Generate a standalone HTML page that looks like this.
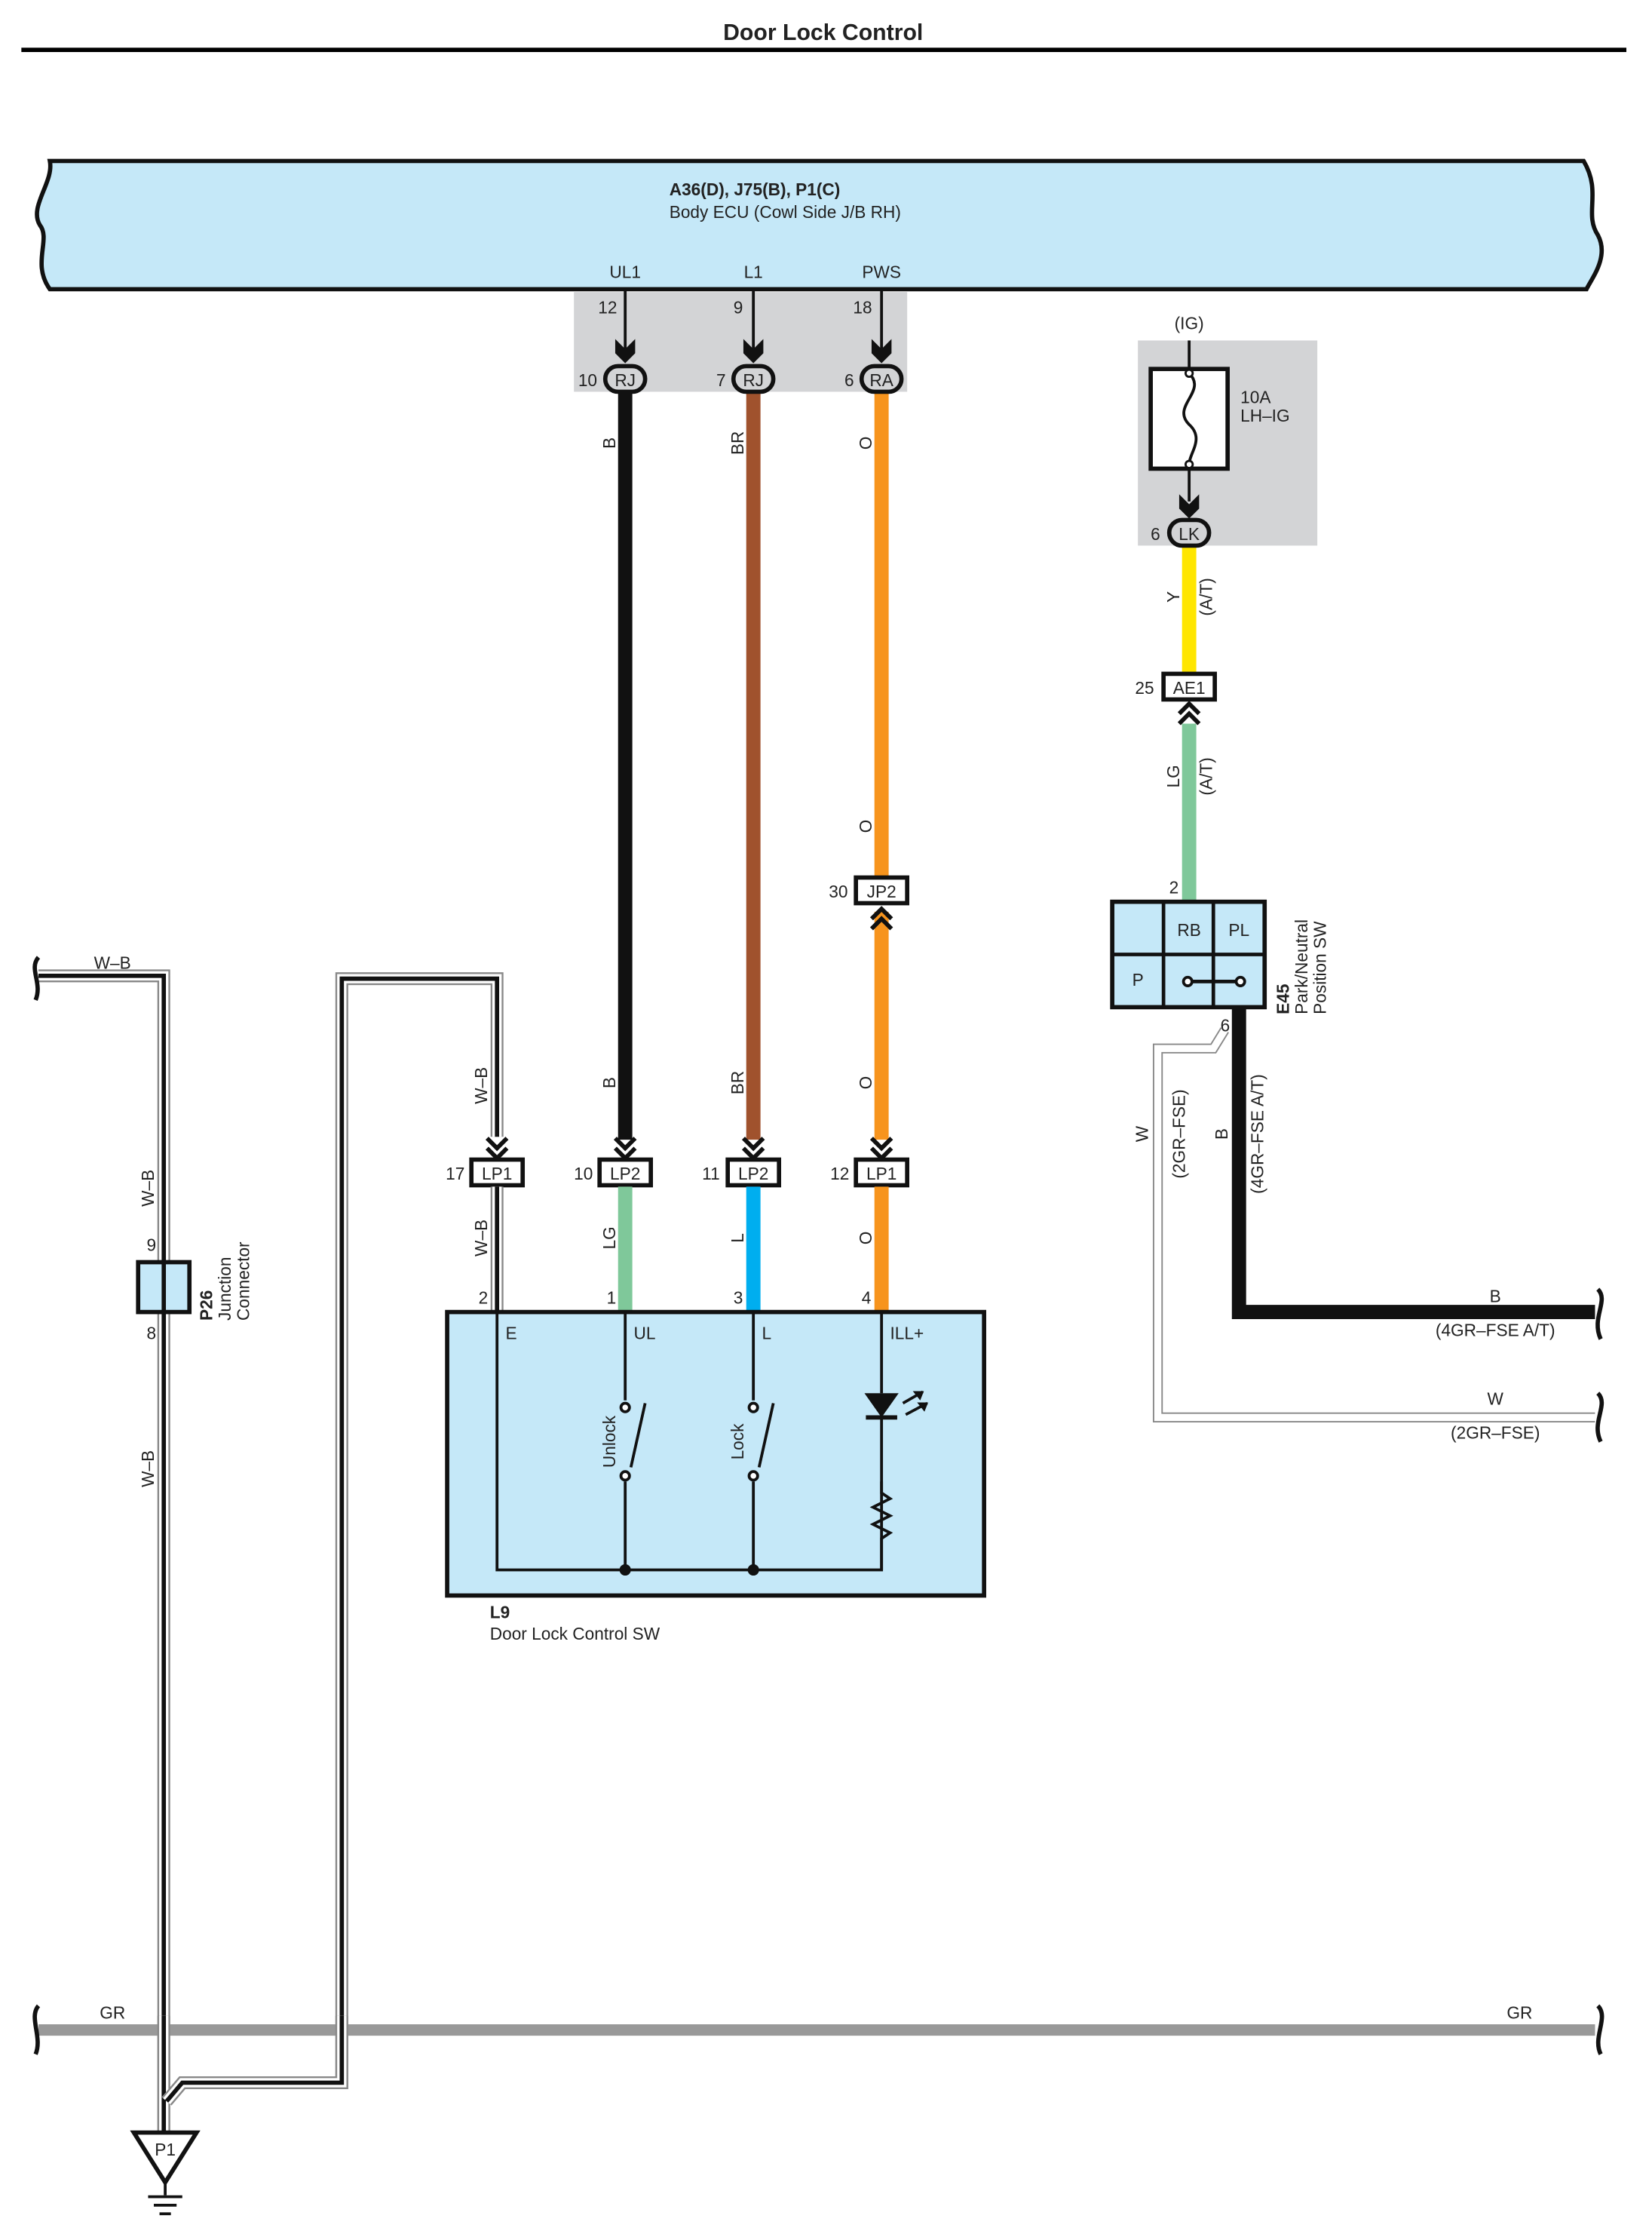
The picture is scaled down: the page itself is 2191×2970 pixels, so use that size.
<!DOCTYPE html>
<html><head><meta charset="utf-8"><style>
html,body{margin:0;padding:0;background:#fff}
svg{display:block}
text{font-family:"Liberation Sans",sans-serif;fill:#222}
</style></head><body>
<svg width="2191" height="2970" viewBox="0 0 1160 1572.4" preserveAspectRatio="none" xmlns="http://www.w3.org/2000/svg">
<defs>
<g id="chev"><path d="M-7,-15 L0,-8 L7,-15 M-7,-8 L0,-1 L7,-8" fill="none" stroke="#111" stroke-width="3"/></g>
<g id="chevu"><path d="M-7,15 L0,8 L7,15 M-7,8 L0,1 L7,8" fill="none" stroke="#111" stroke-width="3"/></g>
<g id="farrow"><path d="M-7,-14 L0,-7 L7,-14 L7,-4 L0,3 L-7,-4 Z" fill="#111"/></g>
</defs>
<!-- title -->
<text x="578" y="28" font-size="16" font-weight="bold" text-anchor="middle" fill="#000">Door Lock Control</text>
<line x1="15" y1="35" x2="1142" y2="35" stroke="#000" stroke-width="3"/>

<!-- ECU band -->
<path d="M35,113 L1112,113 C1125,135 1112,150 1122,165 C1130,180 1118,195 1114,203 L35,203 C22,185 36,168 28,158 C20,145 38,128 35,113 Z" fill="#c5e8f8" stroke="#111" stroke-width="3"/>
<text x="470" y="137" font-size="12" font-weight="bold">A36(D), J75(B), P1(C)</text>
<text x="470" y="153" font-size="12">Body ECU (Cowl Side J/B RH)</text>
<text x="439" y="195" font-size="12" text-anchor="middle">UL1</text>
<text x="529" y="195" font-size="12" text-anchor="middle">L1</text>
<text x="619" y="195" font-size="12" text-anchor="middle">PWS</text>
<rect x="403" y="205" width="234" height="70" fill="#d3d4d6"/>

<!-- wires top -->
<line x1="439" y1="275" x2="439" y2="800" stroke="#111" stroke-width="10"/>
<line x1="529" y1="275" x2="529" y2="800" stroke="#a0522d" stroke-width="10"/>
<line x1="619" y1="275" x2="619" y2="616" stroke="#f7941d" stroke-width="10"/>
<line x1="619" y1="640" x2="619" y2="800" stroke="#f7941d" stroke-width="10"/>
<g stroke="#111" stroke-width="2">
<line x1="439" y1="204" x2="439" y2="245"/><line x1="529" y1="204" x2="529" y2="245"/><line x1="619" y1="204" x2="619" y2="245"/>
</g>
<use href="#farrow" x="439" y="252"/><use href="#farrow" x="529" y="252"/><use href="#farrow" x="619" y="252"/>
<text x="420" y="220" font-size="12">12</text>
<text x="515" y="220" font-size="12">9</text>
<text x="599" y="220" font-size="12">18</text>
<g font-size="12">
<rect x="425" y="257" width="28" height="18" rx="9" fill="#d3d4d6" stroke="#111" stroke-width="3"/><text x="439" y="271" text-anchor="middle">RJ</text>
<rect x="515" y="257" width="28" height="18" rx="9" fill="#d3d4d6" stroke="#111" stroke-width="3"/><text x="529" y="271" text-anchor="middle">RJ</text>
<rect x="605" y="257" width="28" height="18" rx="9" fill="#d3d4d6" stroke="#111" stroke-width="3"/><text x="619" y="271" text-anchor="middle">RA</text>
<text x="406" y="271">10</text><text x="503" y="271">7</text><text x="593" y="271">6</text>
</g>
<g font-size="12" text-anchor="middle">
<text transform="translate(432,311) rotate(-90)">B</text>
<text transform="translate(522,311) rotate(-90)">BR</text>
<text transform="translate(612,311) rotate(-90)">O</text>
<text transform="translate(612,580) rotate(-90)">O</text>
<text transform="translate(432,760) rotate(-90)">B</text>
<text transform="translate(522,760) rotate(-90)">BR</text>
<text transform="translate(612,760) rotate(-90)">O</text>
</g>
<!-- JP2 -->
<rect x="601" y="616" width="36" height="18" fill="#fff" stroke="#111" stroke-width="3"/>
<text x="619" y="630" font-size="12" text-anchor="middle">JP2</text>
<text x="582" y="630" font-size="12">30</text>
<use href="#chevu" x="619" y="637"/>

<!-- LP connectors -->
<use href="#chev" x="349" y="814"/><use href="#chev" x="439" y="814"/><use href="#chev" x="529" y="814"/><use href="#chev" x="619" y="814"/>
<g font-size="12">
<rect x="331" y="814" width="36" height="18" fill="#fff" stroke="#111" stroke-width="3"/><text x="349" y="828" text-anchor="middle">LP1</text>
<rect x="421" y="814" width="36" height="18" fill="#fff" stroke="#111" stroke-width="3"/><text x="439" y="828" text-anchor="middle">LP2</text>
<rect x="511" y="814" width="36" height="18" fill="#fff" stroke="#111" stroke-width="3"/><text x="529" y="828" text-anchor="middle">LP2</text>
<rect x="601" y="814" width="36" height="18" fill="#fff" stroke="#111" stroke-width="3"/><text x="619" y="828" text-anchor="middle">LP1</text>
<text x="313" y="828">17</text><text x="403" y="828">10</text><text x="493" y="828">11</text><text x="583" y="828">12</text>
</g>
<line x1="439" y1="833" x2="439" y2="921" stroke="#7fc89a" stroke-width="10"/>
<line x1="529" y1="833" x2="529" y2="921" stroke="#00aeef" stroke-width="10"/>
<line x1="619" y1="833" x2="619" y2="921" stroke="#f7941d" stroke-width="10"/>
<g font-size="12" text-anchor="middle">
<text transform="translate(432,869) rotate(-90)">LG</text>
<text transform="translate(522,869) rotate(-90)">L</text>
<text transform="translate(612,869) rotate(-90)">O</text>
<text transform="translate(342,869) rotate(-90)">W–B</text>
<text transform="translate(342,762) rotate(-90)">W–B</text>
</g>
<g font-size="12"><text x="336" y="915">2</text><text x="426" y="915">1</text><text x="515" y="915">3</text><text x="605" y="915">4</text></g>

<!-- W-B wires (double) -->
<g fill="none" stroke-linejoin="miter">
<path d="M349,798 L349,687 L240,687 L240,1462 L128,1462 L117,1475" stroke="#888" stroke-width="9"/>
<path d="M349,798 L349,687 L240,687 L240,1462 L128,1462 L117,1475" stroke="#fff" stroke-width="6.5"/>
<path d="M349,798 L349,687 L240,687 L240,1462 L128,1462 L117,1475" stroke="#111" stroke-width="3"/>
<path d="M349,833 L349,921" stroke="#888" stroke-width="9"/>
<path d="M349,833 L349,921" stroke="#fff" stroke-width="6.5"/>
<path d="M349,833 L349,921" stroke="#111" stroke-width="3"/>
<path d="M27,685 L115,685 L115,1497" stroke="#888" stroke-width="9"/>
<path d="M27,685 L115,685 L115,1497" stroke="#fff" stroke-width="6.5"/>
<path d="M27,685 L115,685 L115,1497" stroke="#111" stroke-width="3"/>
</g>
<path d="M27,672 C20,680 30,690 25,702" fill="none" stroke="#111" stroke-width="3"/>
<text x="66" y="680" font-size="12">W–B</text>
<g font-size="12" text-anchor="middle">
<text transform="translate(108,834) rotate(-90)">W–B</text>
<text transform="translate(108,1031) rotate(-90)">W–B</text>
</g>
<!-- P26 -->
<rect x="97" y="886" width="36" height="35" fill="#c5e8f8" stroke="#111" stroke-width="3"/>
<line x1="115" y1="886" x2="115" y2="921" stroke="#111" stroke-width="3"/>
<text x="103" y="878" font-size="12">9</text>
<text x="103" y="940" font-size="12">8</text>
<text transform="translate(149,927) rotate(-90)" font-size="12" font-weight="bold">P26</text>
<text transform="translate(162,927) rotate(-90)" font-size="12">Junction</text>
<text transform="translate(175,927) rotate(-90)" font-size="12">Connector</text>

<!-- GR line -->
<line x1="27" y1="1425" x2="1120" y2="1425" stroke="#999" stroke-width="8"/>
<line x1="115" y1="1421" x2="115" y2="1429" stroke="#111" stroke-width="3"/>
<path d="M27,1408 C20,1416 30,1430 25,1442" fill="none" stroke="#111" stroke-width="3"/>
<path d="M1122,1408 C1130,1416 1118,1430 1124,1442" fill="none" stroke="#111" stroke-width="3"/>
<text x="70" y="1417" font-size="12">GR</text>
<text x="1058" y="1417" font-size="12">GR</text>
<!-- redraw W-B crossings over GR -->
<g fill="none">
<path d="M115,1415 L115,1497" stroke="#888" stroke-width="9"/><path d="M115,1415 L115,1497" stroke="#fff" stroke-width="6.5"/><path d="M115,1415 L115,1497" stroke="#111" stroke-width="3"/>
<path d="M240,1415 L240,1462 L128,1462 L117,1475" stroke="#888" stroke-width="9"/><path d="M240,1415 L240,1462 L128,1462 L117,1475" stroke="#fff" stroke-width="6.5"/><path d="M240,1415 L240,1462 L128,1462 L117,1475" stroke="#111" stroke-width="3"/>
</g>
<!-- P1 ground -->
<path d="M94,1497 L138,1497 L116,1532 Z" fill="#fff" stroke="#111" stroke-width="3"/>
<text x="116" y="1513" font-size="12" text-anchor="middle">P1</text>
<g stroke="#111" stroke-width="2"><line x1="116" y1="1532" x2="116" y2="1541"/><line x1="104" y1="1542" x2="128" y2="1542"/><line x1="108" y1="1548" x2="124" y2="1548"/><line x1="112" y1="1554" x2="120" y2="1554"/></g>

<!-- L9 box -->
<rect x="314" y="921" width="377" height="199" fill="#c5e8f8" stroke="#111" stroke-width="3"/>
<g stroke="#111" stroke-width="2" fill="none">
<path d="M349,921 L349,1102 L619,1102 L619,995"/>
<line x1="439" y1="921" x2="439" y2="983"/><line x1="439" y1="1040" x2="439" y2="1102"/>
<line x1="529" y1="921" x2="529" y2="983"/><line x1="529" y1="1040" x2="529" y2="1102"/>
<line x1="443" y1="1030" x2="453" y2="985"/><line x1="533" y1="1030" x2="543" y2="985"/>
<circle cx="439" cy="988" r="3" fill="#fff"/><circle cx="439" cy="1036" r="3" fill="#fff"/>
<circle cx="529" cy="988" r="3" fill="#fff"/><circle cx="529" cy="1036" r="3" fill="#fff"/>
<line x1="619" y1="921" x2="619" y2="978"/>
<line x1="608" y1="995" x2="630" y2="995" stroke-width="3"/>
<path d="M619,1040 L619,1048 L625,1052 L613,1058 L625,1064 L613,1070 L625,1076 L619,1080 L619,1102"/>
<path d="M634,985 L648,977 M636,993 L651,985"/>
</g>
<path d="M607,978 L631,978 L619,995 Z" fill="#111"/>
<path d="M648,977 L642,977 L646,982 Z M651,985 L645,985 L649,990 Z" fill="#111" stroke="#111"/>
<circle cx="439" cy="1102" r="4" fill="#111"/><circle cx="529" cy="1102" r="4" fill="#111"/>
<g font-size="12">
<text x="355" y="940">E</text><text x="445" y="940">UL</text><text x="535" y="940">L</text><text x="625" y="940">ILL+</text>
<text transform="translate(432,1012) rotate(-90)" text-anchor="middle">Unlock</text>
<text transform="translate(522,1012) rotate(-90)" text-anchor="middle">Lock</text>
<text x="344" y="1136" font-weight="bold">L9</text>
<text x="344" y="1151">Door Lock Control SW</text>
</g>

<!-- fuse -->
<text x="835" y="231" font-size="12" text-anchor="middle">(IG)</text>
<rect x="799" y="239" width="126" height="144" fill="#d3d4d6"/>
<rect x="808" y="259" width="54" height="70" fill="#fff" stroke="#111" stroke-width="3"/>
<g stroke="#111" stroke-width="2" fill="none">
<line x1="835" y1="239" x2="835" y2="259"/>
<path d="M835,262 C848,275 822,285 835,298 C846,308 835,318 835,326"/>
<line x1="835" y1="329" x2="835" y2="352"/>
</g>
<circle cx="835" cy="262" r="2.5" fill="#fff" stroke="#111" stroke-width="1.5"/>
<circle cx="835" cy="326" r="2.5" fill="#fff" stroke="#111" stroke-width="1.5"/>
<text x="871" y="283" font-size="12">10A</text>
<text x="871" y="296" font-size="12">LH–IG</text>
<line x1="835" y1="383" x2="835" y2="472" stroke="#ffe600" stroke-width="10"/>
<use href="#farrow" x="835" y="361"/>
<rect x="821" y="365" width="28" height="18" rx="9" fill="#d3d4d6" stroke="#111" stroke-width="3"/>
<text x="835" y="379" font-size="12" text-anchor="middle">LK</text>
<text x="808" y="379" font-size="12">6</text>
<text transform="translate(828,419) rotate(-90)" font-size="12" text-anchor="middle">Y</text>
<text transform="translate(851,419) rotate(-90)" font-size="12" text-anchor="middle">(A/T)</text>
<rect x="817" y="473" width="36" height="18" fill="#fff" stroke="#111" stroke-width="3"/>
<text x="835" y="487" font-size="12" text-anchor="middle">AE1</text>
<text x="797" y="487" font-size="12">25</text>
<use href="#chevu" x="835" y="493"/>
<line x1="835" y1="508" x2="835" y2="633" stroke="#7fc89a" stroke-width="10"/>
<text transform="translate(828,545) rotate(-90)" font-size="12" text-anchor="middle">LG</text>
<text transform="translate(851,545) rotate(-90)" font-size="12" text-anchor="middle">(A/T)</text>
<text x="821" y="627" font-size="12">2</text>

<!-- W wire -->
<g fill="none">
<path d="M860,723 L852,736 L813,736 L813,995 L1120,995" stroke="#888" stroke-width="7"/>
<path d="M860,723 L852,736 L813,736 L813,995 L1120,995" stroke="#fff" stroke-width="5"/>
</g>
<!-- B wire -->
<path d="M870,707 L870,921 L1120,921" fill="none" stroke="#111" stroke-width="10"/>
<path d="M1122,905 C1130,913 1117,925 1124,940" fill="none" stroke="#111" stroke-width="3"/>
<path d="M1122,978 C1130,986 1117,998 1124,1012" fill="none" stroke="#111" stroke-width="3"/>
<g font-size="12">
<text x="1050" y="914" text-anchor="middle">B</text>
<text x="1050" y="938" text-anchor="middle">(4GR–FSE A/T)</text>
<text x="1050" y="986" text-anchor="middle">W</text>
<text x="1050" y="1010" text-anchor="middle">(2GR–FSE)</text>
<text x="857" y="724">6</text>
<text transform="translate(806,796) rotate(-90)" text-anchor="middle">W</text>
<text transform="translate(832,796) rotate(-90)" text-anchor="middle">(2GR–FSE)</text>
<text transform="translate(862,796) rotate(-90)" text-anchor="middle">B</text>
<text transform="translate(887,796) rotate(-90)" text-anchor="middle">(4GR–FSE A/T)</text>
</g>
<!-- E45 -->
<rect x="781" y="633" width="107" height="74" fill="#c5e8f8" stroke="#111" stroke-width="3"/>
<g stroke="#111" stroke-width="2.5">
<line x1="781" y1="670" x2="888" y2="670"/><line x1="817" y1="633" x2="817" y2="707"/><line x1="852" y1="633" x2="852" y2="707"/>
<line x1="834" y1="689" x2="871" y2="689"/>
</g>
<circle cx="834" cy="689" r="3" fill="#fff" stroke="#111" stroke-width="2"/>
<circle cx="871" cy="689" r="3" fill="#fff" stroke="#111" stroke-width="2"/>
<g font-size="12" text-anchor="middle">
<text x="835" y="657">RB</text><text x="870" y="657">PL</text><text x="799" y="692">P</text>
</g>
<text transform="translate(905,712) rotate(-90)" font-size="12" font-weight="bold">E45</text>
<text transform="translate(918,712) rotate(-90)" font-size="12">Park/Neutral</text>
<text transform="translate(931,712) rotate(-90)" font-size="12">Position SW</text>
</svg>
</body></html>
